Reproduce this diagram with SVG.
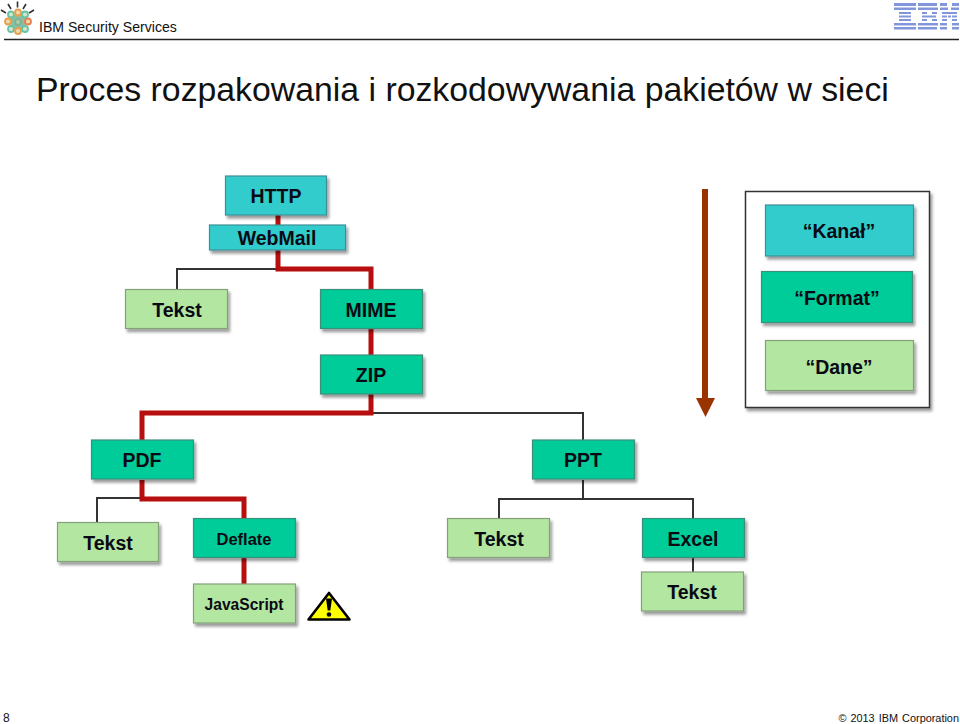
<svg xmlns="http://www.w3.org/2000/svg" width="960" height="724" viewBox="0 0 960 724">
<style>
text{font-family:"Liberation Sans",Arial,sans-serif;fill:#0a0a14}
.l{font-weight:bold;font-size:19.500px;text-anchor:middle}
.s{font-weight:bold;font-size:16.500px;text-anchor:middle}
.n{stroke-width:1.200;filter:url(#sh)}
.c{fill:#33cccc;stroke:#3d8f96}
.g{fill:#00cc99;stroke:#3d8f7c}
.t{fill:#b3e6a1;stroke:#83a078}
.bk{fill:none;stroke:#333;stroke-width:2}
.rd{fill:none;stroke:#b70f0f;stroke-width:5}
</style>
<defs>
<filter id="sh" x="-10%" y="-15%" width="125%" height="140%"><feDropShadow dx="2" dy="3" stdDeviation="1.600" flood-color="#000" flood-opacity=".4"/></filter>
</defs>
<rect width="960" height="724" fill="#fff"/>
<g id="header">
<g id="logo" fill="none">
<g stroke="#333" stroke-width="1.600"><path d="M17.500 1.500v6M8 4l3 5M26 4l-3 5M1 10l5 3M34 10l-5 3"/></g>
<circle cx="18" cy="22" r="8" fill="#8cbf9a"/>
<g stroke-width="1.800">
<circle cx="11" cy="14.500" r="3" stroke="#66c2a8" fill="#cfe8c8"/><circle cx="18" cy="12.500" r="3" stroke="#e6a050" fill="#f0d8a8"/><circle cx="25" cy="14.500" r="3" stroke="#66c2a8" fill="#cfe8c8"/>
<circle cx="8" cy="21.500" r="3" stroke="#e6a050" fill="#f0d8a8"/><circle cx="18" cy="22" r="3" stroke="#7fb0a0" fill="#a8d0a0"/><circle cx="28" cy="21.500" r="3" stroke="#e68050" fill="#f0d8a8"/>
<circle cx="11" cy="29" r="3" stroke="#66c2a8" fill="#cfe8c8"/><circle cx="18" cy="31" r="3" stroke="#e6a050" fill="#f0d8a8"/><circle cx="25" cy="29" r="3" stroke="#66c2a8" fill="#cfe8c8"/>
</g>
</g>
<text x="39" y="32" font-size="14.100" style="fill:#111">IBM Security Services</text>
<g id="ibm-logo" fill="#8296dc">
<rect x="894" y="3" width="22" height="3"/><rect x="894" y="7.500" width="22" height="2.500"/>
<rect x="899" y="12" width="12" height="2"/><rect x="899" y="15.500" width="12" height="2"/><rect x="899" y="19" width="12" height="2"/>
<rect x="894" y="23" width="22" height="2.500"/><rect x="894" y="27" width="22" height="2.500"/>
<rect x="918" y="3" width="19" height="3"/><rect x="918" y="7.500" width="20" height="2.500"/>
<rect x="922" y="12" width="5" height="2"/><rect x="932" y="12" width="5" height="2"/><rect x="922" y="15.500" width="14" height="2"/><rect x="922" y="19" width="5" height="2"/><rect x="932" y="19" width="5" height="2"/>
<rect x="918" y="23" width="20" height="2.500"/><rect x="918" y="27" width="19" height="2.500"/>
<rect x="940" y="3" width="7" height="3"/><rect x="952" y="3" width="7" height="3"/><rect x="940" y="7.500" width="8" height="2.500"/><rect x="951" y="7.500" width="8" height="2.500"/>
<rect x="942" y="12" width="15" height="2"/><rect x="942" y="15.500" width="5" height="2"/><rect x="948" y="15.500" width="3" height="2"/><rect x="952" y="15.500" width="5" height="2"/><rect x="942" y="19" width="5" height="2"/><rect x="952" y="19" width="5" height="2"/>
<rect x="940" y="23" width="7" height="2.500"/><rect x="952" y="23" width="7" height="2.500"/><rect x="940" y="27" width="7" height="2.500"/><rect x="952" y="27" width="7" height="2.500"/>
</g>
<path d="M4 39.500H959" stroke="#222" stroke-width="1.300"/>
</g>
<text id="title" x="36" y="101" font-size="33.800" style="fill:#111">Proces rozpakowania i rozkodowywania pakietów w sieci</text>
<g id="connectors">
<path class="bk" d="M278 269H177V290"/>
<path class="bk" d="M371 413H583V440"/>
<path class="bk" d="M142 498H97V522"/>
<path class="bk" stroke-width="2.500" d="M583 480V499M499 518V499H693V518"/>
<path class="bk" d="M693 558V572"/>
<path class="rd" d="M278 215V225M278 250V269H371V290"/>
<path class="rd" d="M371 329V355M371 394V413H142V440"/>
<path class="rd" d="M142 480V499H244V518"/>
<path class="rd" d="M244 558V584"/>
</g>
<g id="n-http"><rect class="n c" x="225.500" y="176" width="101" height="39"/><text class="l" x="276" y="203">HTTP</text></g>
<g id="n-webmail"><rect class="n c" x="209.500" y="225" width="136" height="25"/><text class="l" x="277" y="245">WebMail</text></g>
<g id="n-tekst1"><rect class="n t" x="125.500" y="289.500" width="102" height="39"/><text class="l" x="177" y="317">Tekst</text></g>
<g id="n-mime"><rect class="n g" x="320.500" y="289.500" width="102" height="39"/><text class="l" x="371" y="317">MIME</text></g>
<g id="n-zip"><rect class="n g" x="320.500" y="355" width="102" height="39"/><text class="l" x="371" y="382">ZIP</text></g>
<g id="n-pdf"><rect class="n g" x="91.500" y="440" width="102" height="39"/><text class="l" x="142" y="467">PDF</text></g>
<g id="n-ppt"><rect class="n g" x="532.500" y="440" width="102" height="39"/><text class="l" x="583" y="467">PPT</text></g>
<g id="n-tekst2"><rect class="n t" x="57.500" y="522.500" width="101" height="39"/><text class="l" x="108" y="550">Tekst</text></g>
<g id="n-deflate"><rect class="n g" x="193.500" y="518.500" width="102" height="39"/><text class="s" x="244" y="545">Deflate</text></g>
<g id="n-tekst3"><rect class="n t" x="447.500" y="518.500" width="102" height="39"/><text class="l" x="499" y="546">Tekst</text></g>
<g id="n-excel"><rect class="n g" x="642.500" y="518.500" width="102" height="39"/><text class="l" x="693" y="546">Excel</text></g>
<g id="n-js"><rect class="n t" x="193.500" y="584" width="102" height="39"/><text class="s" x="244" y="610" style="font-size:15.600px">JavaScript</text></g>
<g id="n-tekst4"><rect class="n t" x="641.500" y="572" width="102" height="39"/><text class="l" x="692" y="599">Tekst</text></g>
<g id="warning"><path d="M329 593L349.500 619.500H308.500Z" fill="#ffff00" stroke="#000" stroke-width="2.600" stroke-linejoin="round"/><path d="M326 598.500H332L330.300 610.500H327.700Z" fill="#000"/><circle cx="329" cy="614.500" r="2.300" fill="#000"/></g>
<g id="arrow"><rect x="702" y="189" width="6" height="210" fill="#993300"/><path d="M696 398H715L705.500 417Z" fill="#993300"/></g>
<g id="legend">
<rect x="745.500" y="191.500" width="184" height="216" fill="#fff" stroke="#333" stroke-width="1.500" filter="url(#sh)"/>
<g id="n-kanal"><rect class="n c" x="765.500" y="205" width="148" height="51"/><text class="l" x="839" y="238">“Kanał”</text></g>
<g id="n-format"><rect class="n g" x="761.500" y="271.500" width="151" height="51"/><text class="l" x="837" y="305">“Format”</text></g>
<g id="n-dane"><rect class="n t" x="765.500" y="340.500" width="148" height="50"/><text class="l" x="839" y="374">“Dane”</text></g>
</g>
<text x="3" y="722" font-size="12" style="fill:#111">8</text>
<text x="959" y="722" font-size="10.900" text-anchor="end" style="fill:#111;word-spacing:1px">© 2013 IBM Corporation</text>
</svg>
